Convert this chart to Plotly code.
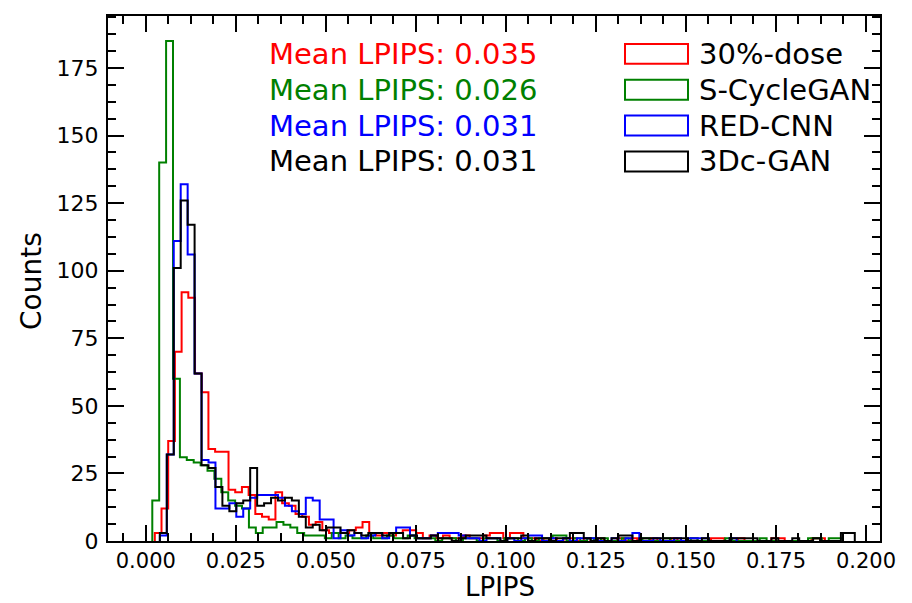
import numpy as np
import plotly.graph_objects as go

# ---------------- data ----------------
series_names = ["30%-dose", "S-CycleGAN", "RED-CNN", "3Dc-GAN"]
mean_lpips = [0.035, 0.026, 0.031, 0.031]

# bin start / width (LPIPS units) of each histogram
red_bin_start, red_bin_width = 0.0025, 0.001861
green_bin_start, green_bin_width = 0.0018, 0.001917
blue_bin_start, blue_bin_width = 0.0039, 0.00193
black_bin_start, black_bin_width = 0.0039, 0.00193

red_counts = [3, 12, 37, 70, 92, 90, 62, 55, 34, 33,
              33, 19, 18, 20, 17, 10, 9, 8, 18, 14,
              13, 10, 9, 6, 7, 4, 3, 3, 3, 4,
              5, 7, 3, 2, 3, 2, 3, 4, 4, 3,
              1, 2, 1, 2, 1, 1, 2, 1, 1, 2,
              3, 3, 1, 3, 3, 1, 1, 0, 1, 1,
              0, 1, 1, 0, 1, 0, 1, 0, 0, 1,
              0, 1, 0, 0, 1, 0, 0, 1, 0, 0,
              1, 0, 0, 1, 1, 0, 0, 1, 0, 0,
              0, 0, 1, 1, 0, 0, 0, 0, 1, 1]

green_counts = [15, 140, 185, 60, 31, 30, 29, 28, 26, 23,
                18, 15, 13, 12, 5, 3, 5, 5, 7, 6,
                5, 3, 2, 2, 2, 1, 3, 1, 2, 1,
                1, 2, 1, 1, 2, 1, 1, 2, 1, 1,
                1, 0, 1, 1, 0, 1, 1, 0, 1, 1,
                0, 1, 1, 0, 1, 0, 1, 1, 2, 2,
                0, 1, 0, 1, 0, 1, 0, 0, 1, 0,
                0, 1, 0, 0, 1, 0, 0, 0, 1, 0,
                0, 0, 0, 1, 0, 0, 0, 0, 1, 0,
                0, 0, 0, 0, 0, 1, 1, 0, 1, 1]

blue_counts = [2, 32, 111, 132, 106, 62, 30, 29, 12, 12,
               14, 9, 12, 16, 17, 17, 17, 16, 13, 11,
               10, 16, 15, 8, 8, 1, 4, 2, 3, 1,
               2, 3, 1, 3, 5, 5, 2, 1, 1, 2,
               3, 3, 3, 2, 1, 1, 0, 1, 1, 0,
               1, 0, 1, 2, 2, 0, 1, 0, 1, 0,
               1, 1, 1, 0, 0, 1, 0, 1, 3, 0,
               0, 1, 0, 0, 1, 0, 1, 1, 1, 0,
               0, 0, 1]

black_counts = [3, 32, 101, 126, 117, 62, 28, 27, 20, 13,
                11, 14, 15, 27, 13, 14, 16, 15, 16, 15,
                9, 5, 6, 4, 5, 5, 3, 4, 3, 2,
                3, 3, 2, 3, 3, 1, 2, 1, 1, 2,
                1, 1, 0, 1, 2, 2, 2, 1, 1, 0,
                1, 1, 2, 0, 1, 1, 0, 1, 1, 3,
                3, 1, 0, 1, 0, 1, 2, 2, 0, 1,
                1, 1, 1, 1, 1, 1, 0, 0, 1, 0,
                0, 0, 1, 1, 1, 1, 0, 0, 1, 0,
                0, 1, 0, 0, 1, 0, 0, 0, 3, 3]

x_tick_values = [0.000, 0.025, 0.050, 0.075, 0.100, 0.125, 0.150, 0.175, 0.200]
y_tick_values = [0, 25, 50, 75, 100, 125, 150, 175]

# ---------------- styling ----------------
colors = ["#ff0000", "#008000", "#0000ff", "#000000"]
FONT = "DejaVu Sans"
PAGE_OFF = 8                      # default body margin of the html page
W, H = 912 - PAGE_OFF, 603 - PAGE_OFF
# plot frame in page pixels: left 108, right 880, top 14, bottom 541
L, T = 108 - PAGE_OFF, 14 - PAGE_OFF
R = W - (880 - PAGE_OFF)
B = H - (541 - PAGE_OFF)
PW, PH = W - L - R, H - T - B


def px_x(p):
    return (p - PAGE_OFF - L) / PW


def px_y(p):
    return (T + PH - (p - PAGE_OFF)) / PH


def step_xy(start, width, counts):
    n = len(counts)
    edges = start + width * np.arange(n + 1)
    xs = [edges[0]] + list(edges[:n]) + [edges[n]]
    ys = [0] + list(counts) + [0]
    return xs, ys


fig = go.Figure()
hist_params = [
    (red_bin_start, red_bin_width, red_counts),
    (green_bin_start, green_bin_width, green_counts),
    (blue_bin_start, blue_bin_width, blue_counts),
    (black_bin_start, black_bin_width, black_counts),
]
for name, col, (s, w, c) in zip(series_names, colors, hist_params):
    xs, ys = step_xy(s, w, c)
    fig.add_trace(go.Scatter(x=xs, y=ys, mode="lines", line_shape="hv",
                             line=dict(color=col, width=2), name=name,
                             showlegend=False, hoverinfo="skip"))

annotations = []
shapes = []
row_centers = [52, 88, 124, 160]
for i, (name, col, m) in enumerate(zip(series_names, colors, mean_lpips)):
    yc = row_centers[i]
    annotations.append(dict(x=px_x(267), y=px_y(yc), xref="paper", yref="paper",
                            text=f"Mean LPIPS: {m:.3f}", showarrow=False,
                            xanchor="left", yanchor="middle",
                            font=dict(family=FONT, size=29, color=col)))
    shapes.append(dict(type="rect", xref="paper", yref="paper",
                       x0=px_x(625), x1=px_x(688), y0=px_y(yc + 10), y1=px_y(yc - 10),
                       line=dict(color=col, width=2), fillcolor="rgba(0,0,0,0)"))
    annotations.append(dict(x=px_x(697), y=px_y(yc), xref="paper", yref="paper",
                            text=name, showarrow=False,
                            xanchor="left", yanchor="middle",
                            font=dict(family=FONT, size=29, color="black")))

annotations.append(dict(x=px_x(500), y=px_y(587), xref="paper", yref="paper", text="LPIPS",
                        showarrow=False, xanchor="center", yanchor="middle",
                        font=dict(family=FONT, size=26, color="black")))
annotations.append(dict(x=px_x(32), y=px_y(280), xref="paper", yref="paper", text="Counts",
                        showarrow=False, xanchor="center", yanchor="middle", textangle=-90,
                        font=dict(family=FONT, size=28, color="black")))

axis_common = dict(showgrid=False, zeroline=False, showline=True, linecolor="black",
                   linewidth=2, mirror="ticks", ticks="inside", tickwidth=2,
                   ticklen=16, tickcolor="black")

fig.update_layout(
    width=W, height=H,
    margin=dict(l=L, r=R, t=T, b=B),
    paper_bgcolor="white", plot_bgcolor="white",
    showlegend=False,
    annotations=annotations, shapes=shapes,
    xaxis=dict(range=[-0.0105, 0.2039], tickvals=x_tick_values,
               ticktext=[f"{v:.3f}" for v in x_tick_values],
               tickfont=dict(family=FONT, size=21, color="black"),
               minor=dict(dtick=0.00625, tick0=0, ticks="inside", ticklen=8,
                          tickwidth=1.5, tickcolor="black"),
               **axis_common),
    yaxis=dict(range=[0, 194.25], tickvals=y_tick_values,
               ticktext=[str(v) for v in y_tick_values],
               tickfont=dict(family=FONT, size=22, color="black"),
               ticklabelstandoff=3,
               minor=dict(dtick=6.25, tick0=0, ticks="inside", ticklen=8,
                          tickwidth=1.5, tickcolor="black"),
               **axis_common),
)

fig.write_html("out.html")
